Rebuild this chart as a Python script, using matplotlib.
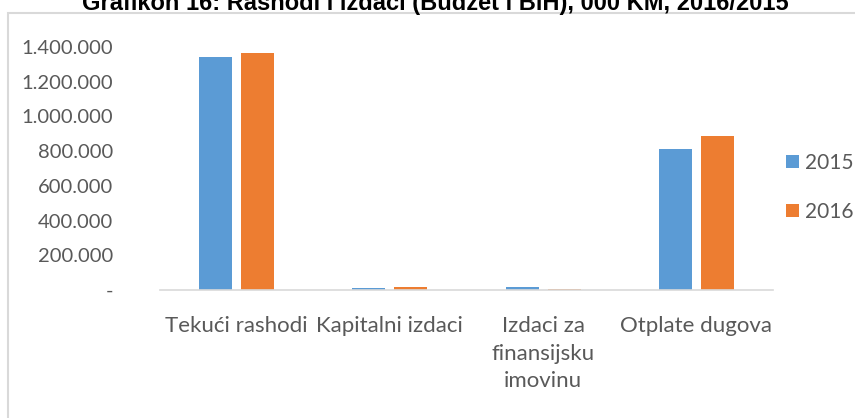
import matplotlib
matplotlib.use('Agg')
import matplotlib.pyplot as plt
import numpy as np
from matplotlib.patches import Rectangle
from matplotlib.ticker import FuncFormatter

# ================= 数据 (000 KM) =================
categories = ['Tekući rashodi', 'Kapitalni izdaci', 'Izdaci za\nfinansijsku\nimovinu', 'Otplate dugova']
values_2015 = [1342000, 10000, 17000, 812000]
values_2016 = [1365000, 17000, 8000, 887000]
series_labels = ['2015', '2016']
y_ticks = [0, 200000, 400000, 600000, 800000, 1000000, 1200000, 1400000]

title = 'Grafikon 16: Rashodi i izdaci (Budžet i BiH), 000 KM, 2016/2015'

blue = '#5b9bd5'
orange = '#ed7d31'
grey_txt = '#595959'

plt.rcParams['font.family'] = ['Lato', 'DejaVu Sans']

W, H = 855, 418
fig = plt.figure(figsize=(W / 100, H / 100), dpi=100)

# 图表外框 (浅灰色)，放在最底层
fig.patches.append(Rectangle((8 / W, -0.1), 2.0, 1 - 13 / H + 0.1, transform=fig.transFigure,
                             facecolor='white', edgecolor='#d9d9d9', linewidth=1.5, zorder=-5))

# 标题 (上半部分被裁掉)
fig.text(0.509, 1 - 10 / H, title, ha='center', va='baseline', fontsize=17, fontweight='bold',
         family='Liberation Sans', color='black')

ax = fig.add_axes([160 / W, 1 - 290 / H, (773 - 160) / W, (290 - 47) / H])
ax.set_facecolor('none')

x = np.arange(len(categories))
bw = 0.216
off = 0.1375
ax.bar(x - off, values_2015, bw, color=blue, label=series_labels[0])
ax.bar(x + off, values_2016, bw, color=orange, label=series_labels[1])

ax.set_xlim(-0.5, len(categories) - 0.5)
ax.set_ylim(0, 1400000)
ax.set_yticks(y_ticks)


def fmt(v, pos):
    if v == 0:
        return '-'
    return f'{int(v):,}'.replace(',', '.')


ax.yaxis.set_major_formatter(FuncFormatter(fmt))
ax.set_xticks(x)
ax.set_xticklabels(categories, fontsize=16, color=grey_txt, linespacing=1.45, va='top')

ax.tick_params(axis='y', length=0, labelsize=14.5, labelcolor=grey_txt, pad=34)
ax.tick_params(axis='x', length=0, pad=19)

for s in ['top', 'right', 'left']:
    ax.spines[s].set_visible(False)
ax.spines['bottom'].set_color('#d9d9d9')
ax.spines['bottom'].set_linewidth(1.2)

leg = fig.legend(loc='upper left', bbox_to_anchor=(786 / W, 1 - 153 / H), frameon=False,
                 fontsize=15, labelspacing=1.4, handlelength=0.6, handleheight=0.6,
                 handletextpad=0.3, borderaxespad=0, borderpad=0)
for t in leg.get_texts():
    t.set_color(grey_txt)

fig.savefig('out.png', dpi=100)
